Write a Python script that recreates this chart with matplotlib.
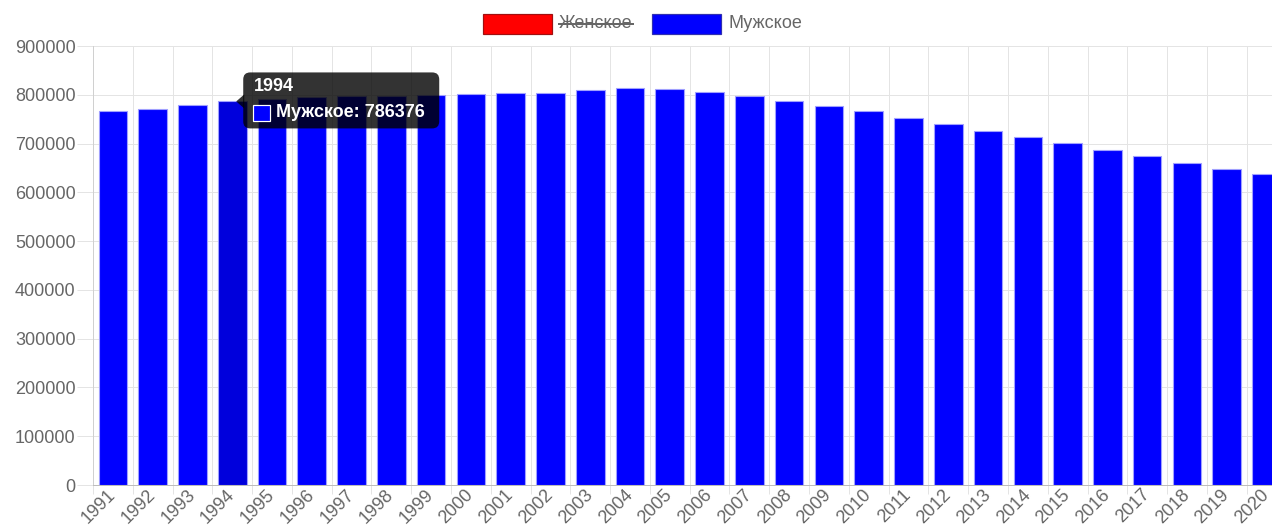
import matplotlib
matplotlib.use('Agg')
import matplotlib.pyplot as plt
import matplotlib.transforms as mtransforms
from matplotlib.patches import Rectangle, FancyBboxPatch, Polygon
from matplotlib.lines import Line2D

plt.rcParams['font.family'] = ['Liberation Sans', 'DejaVu Sans']

# Population by year, male series (the female series is toggled off in the legend)
years = [str(y) for y in range(1991, 2021)]
male = [767000, 771000, 779000, 786376, 792000, 795000, 797000, 798000,
        799000, 802000, 804000, 804500, 810000, 813000, 811000, 806000,
        798000, 788000, 777000, 766000, 752000, 740000, 726000, 714000,
        702000, 687000, 675000, 661000, 647000, 637000]
y_ticks = list(range(0, 900001, 100000))
legend_labels = ['Женское', 'Мужское']
legend_fill = ['#ff0000', '#0000ff']
legend_edge = ['#a01010', '#3030b0']
hidden_series = ['Женское']
hover_year = '1994'

W, H = 1272, 526
fig = plt.figure(figsize=(W / 100, H / 100), dpi=100)
fig.patch.set_facecolor('white')
px = 0.72  # one pixel in points

ax = fig.add_axes([93 / W, 41 / H, 1193.4 / W, 439 / H])
xs = list(range(len(years)))
bar_colors = ['#0000dc' if y == hover_year else '#0000ff' for y in years]
ax.bar(xs, male, width=0.72, color=bar_colors, edgecolor='#a0a0ff',
       linewidth=0.8, zorder=3)

ax.set_xlim(-0.5, len(years) - 0.5)
ax.set_ylim(0, 900000)
ax.set_yticks(y_ticks)
ax.set_yticklabels([str(v) for v in y_ticks])
ax.set_xticks(xs)
ax.set_xticklabels(years, rotation=45, ha='right', va='center',
                   rotation_mode='anchor')
ax.set_xticks([i - 0.5 for i in range(len(years) + 1)], minor=True)

grid_c = '#e4e4e4'
ax.grid(axis='y', which='major', color=grid_c, linewidth=1 * px, zorder=0)
ax.grid(axis='x', which='minor', color=grid_c, linewidth=1 * px, zorder=0)
ax.grid(axis='x', which='major', visible=False)
ax.set_axisbelow(True)

ax.tick_params(axis='x', which='major', length=0, pad=7 * px,
               labelsize=13, labelcolor='#666666')
ax.tick_params(axis='x', which='minor', length=9 * px, width=1 * px,
               color=grid_c)
ax.tick_params(axis='y', which='major', length=16 * px, width=1 * px,
               color=grid_c, pad=1.5 * px, labelsize=13, labelcolor='#666666')

for side in ('top', 'right'):
    ax.spines[side].set_visible(False)
ax.spines['left'].set_color('#d0d0d0')
ax.spines['left'].set_linewidth(1 * px)
ax.spines['bottom'].set_color('#bdbdbd')
ax.spines['bottom'].set_linewidth(1 * px)

# Legend across the top, drawn in pixel coordinates
pix = mtransforms.IdentityTransform()
box_w, box_h = 69, 20
box_top = H - 14
legend_x = [483, 652]
texts = []
for lx, lab, fc, ec in zip(legend_x, legend_labels, legend_fill, legend_edge):
    fig.add_artist(Rectangle((lx, box_top - box_h), box_w, box_h,
                             facecolor=fc, edgecolor=ec, linewidth=1.2 * px,
                             transform=pix))
    t = fig.text(lx + box_w + 7, box_top - box_h / 2, lab, transform=pix,
                 fontsize=13, color='#666666', ha='left', va='center')
    texts.append((lab, t))

fig.canvas.draw()
renderer = fig.canvas.get_renderer()
for lab, t in texts:
    if lab in hidden_series:
        bb = t.get_window_extent(renderer)
        ymid = box_top - box_h / 2
        fig.add_artist(Line2D([bb.x0, bb.x1], [ymid, ymid], color='#666666',
                              linewidth=2 * px, transform=pix))

# Hover tooltip anchored at the top of the highlighted bar
hi = years.index(hover_year)
tip = mtransforms.Affine2D() + mtransforms.ScaledTranslation(
    hi, male[hi], ax.transData)
fig.add_artist(Polygon([(4, 0), (12, 7), (12, -7)], closed=True,
                       facecolor='black', alpha=0.8, edgecolor='none',
                       transform=tip, zorder=5))
fig.add_artist(FancyBboxPatch((11, -27), 196, 56,
                              boxstyle='round,pad=0,rounding_size=7',
                              facecolor='black', alpha=0.8, edgecolor='none',
                              transform=tip, zorder=5))
fig.text(22, 15, hover_year, transform=tip, fontsize=13, fontweight='bold',
         color='white', ha='left', va='center', zorder=6)
fig.add_artist(Rectangle((21, -20), 17, 16, facecolor='#0000ff',
                         edgecolor='white', linewidth=1.2 * px,
                         transform=tip, zorder=6))
fig.text(44, -11.5, f'{legend_labels[1]}: {male[hi]}', transform=tip,
         fontsize=13, fontweight='bold', color='white', ha='left',
         va='center', zorder=6)

fig.savefig('out.png', dpi=100)
